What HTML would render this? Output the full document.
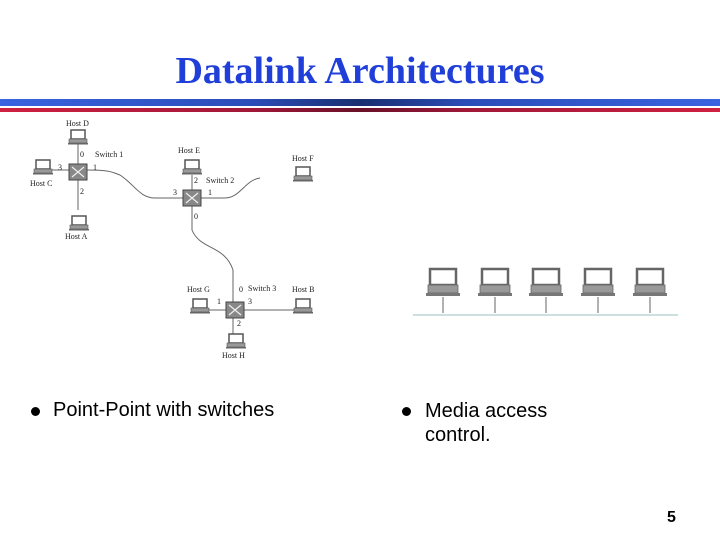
<!DOCTYPE html>
<html><head><style>
body{margin:0;width:720px;height:540px;background:#fff;position:relative;overflow:hidden;font-family:"Liberation Sans",sans-serif}
.t{position:absolute;top:49px;left:0;width:720px;text-align:center;font-family:"Liberation Serif",serif;font-size:38px;font-weight:bold;color:#1f3fd8}
.b1{position:absolute;left:0;top:99px;width:720px;height:7px;background:linear-gradient(90deg,#3a63e0,#2a4db8 35%,#1a2f70 50%,#2a4db8 65%,#3a63e0)}
.b2{position:absolute;left:0;top:108px;width:720px;height:4px;background:linear-gradient(90deg,#d02040,#a01838 35%,#6a1028 50%,#a01838 65%,#d02040)}
.bl{position:absolute;font-size:20px;color:#000}
.dot{position:absolute;width:9px;height:9px;border-radius:50%;background:#000}
</style></head><body>
<div class="t">Datalink Architectures</div>
<div class="b1"></div><div class="b2"></div>
<svg width="720" height="540" style="position:absolute;left:0;top:0" font-family="Liberation Serif,serif" font-size="8" fill="#222">
<defs>
<g id="h"><rect x="-7" y="-8" width="14" height="9" fill="#fff" stroke="#555" stroke-width="1.5"/><rect x="-9" y="1" width="18" height="4" fill="#999" stroke="#555" stroke-width=".6"/><rect x="-10" y="5" width="20" height="1.5" fill="#666"/></g>
<g id="H"><rect x="-13" y="-14" width="26" height="16" fill="#fff" stroke="#666" stroke-width="2.5"/><rect x="-15" y="2" width="30" height="8" fill="#999" stroke="#666" stroke-width=".8"/><rect x="-17" y="10" width="34" height="3" fill="#777"/></g>
<g id="s"><rect x="-9" y="-8" width="18" height="16" fill="#888" stroke="#444"/><path d="M-6-5L6 5M-6 5L6-5" stroke="#eee" stroke-width="1.2"/></g>
</defs>
<g stroke="#666" fill="none" stroke-width="1">
<path d="M78 140V210M50 170H78"/>
<path d="M87 170C110 170 112 172 120 175C135 185 140 198 155 198H192"/>
<path d="M192 175V198H225C240 198 245 180 260 178"/>
<path d="M192 198V230C200 250 225 245 233 270V340"/>
<path d="M205 310H303"/>
</g>
<use href="#s" x="78" y="172"/><use href="#s" x="192" y="198"/><use href="#s" x="235" y="310"/>
<use href="#h" x="78" y="138"/><use href="#h" x="43" y="168"/><use href="#h" x="79" y="224"/>
<use href="#h" x="192" y="168"/><use href="#h" x="303" y="175"/><use href="#h" x="200" y="307"/>
<use href="#h" x="303" y="307"/><use href="#h" x="236" y="342"/>
<text x="66" y="126">Host D</text><text x="30" y="186">Host C</text><text x="65" y="239">Host A</text>
<text x="178" y="153">Host E</text><text x="292" y="161">Host F</text><text x="187" y="292">Host G</text>
<text x="292" y="292">Host B</text><text x="222" y="358">Host H</text>
<text x="95" y="157">Switch 1</text><text x="206" y="183">Switch 2</text><text x="248" y="291">Switch 3</text>
<text x="80" y="157">0</text><text x="58" y="170">3</text><text x="93" y="170">1</text><text x="80" y="194">2</text>
<text x="194" y="183">2</text><text x="173" y="195">3</text><text x="208" y="195">1</text><text x="194" y="219">0</text>
<text x="239" y="292">0</text><text x="217" y="304">1</text><text x="248" y="304">3</text><text x="237" y="326">2</text>
<rect x="413" y="314" width="265" height="2" fill="#cde0e0"/>
<g stroke="#666"><path d="M443 297V313M495 297V313M546 297V313M598 297V313M650 297V313"/></g>
<use href="#H" x="443" y="283"/><use href="#H" x="495" y="283"/><use href="#H" x="546" y="283"/><use href="#H" x="598" y="283"/><use href="#H" x="650" y="283"/>
</svg>
<div class="dot" style="left:31px;top:407px"></div>
<div class="bl" style="left:53px;top:399px">Point-Point with switches</div>
<div class="dot" style="left:402px;top:407px"></div>
<div class="bl" style="left:425px;top:399px;line-height:24px">Media access<br>control.</div>
<div class="bl" style="left:667px;top:509px;font-size:16px;font-weight:bold">5</div>
</body></html>
